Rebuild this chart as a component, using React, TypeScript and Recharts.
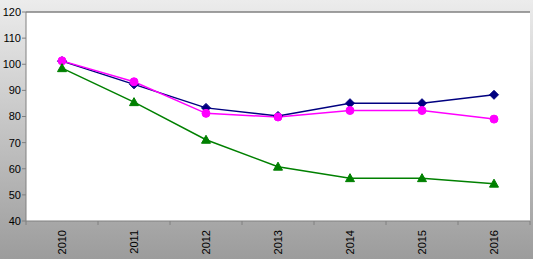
import React from "react";
import { LineChart, Line, XAxis, YAxis, CartesianGrid, ReferenceLine } from "recharts";

const years = ["2010", "2011", "2012", "2013", "2014", "2015", "2016"];
const seriesBlue = [101.2, 92.3, 83.3, 80.2, 85.1, 85.1, 88.3];
const seriesMagenta = [101.3, 93.3, 81.2, 79.8, 82.3, 82.3, 79.0];
const seriesGreen = [98.5, 85.5, 71.1, 60.8, 56.4, 56.4, 54.3];
const yTicks = [40, 50, 60, 70, 80, 90, 100, 110, 120];

const data = years.map((y, i) => ({
  year: y,
  blue: seriesBlue[i],
  magenta: seriesMagenta[i],
  green: seriesGreen[i],
}));

const HALF_BAND = 36;

const Diamond = (props: any) => {
  const { cx, cy } = props;
  if (cx == null || cy == null) return null;
  const r = 4.5;
  return (
    <polygon
      key={props.index}
      points={`${cx},${cy - r} ${cx + r},${cy} ${cx},${cy + r} ${cx - r},${cy}`}
      fill="#000080"
      stroke="#000080"
    />
  );
};

const Circle = (props: any) => {
  const { cx, cy } = props;
  if (cx == null || cy == null) return null;
  return <circle key={props.index} cx={cx} cy={cy} r={4} fill="#FF00FF" stroke="#FF00FF" />;
};

const Triangle = (props: any) => {
  const { cx, cy } = props;
  if (cx == null || cy == null) return null;
  const r = 4.5;
  return (
    <polygon
      key={props.index}
      points={`${cx},${cy - r} ${cx + r},${cy + r - 1} ${cx - r},${cy + r - 1}`}
      fill="#008000"
      stroke="#008000"
    />
  );
};

const XTick = (props: any) => {
  const { x, y, payload, index } = props;
  const axisY = y - 8;
  return (
    <g>
      <line x1={x - HALF_BAND} y1={axisY} x2={x - HALF_BAND} y2={axisY + 4} stroke="#808080" />
      {index === years.length - 1 && (
        <line x1={x + HALF_BAND} y1={axisY} x2={x + HALF_BAND} y2={axisY + 4} stroke="#808080" />
      )}
      <text
        x={0}
        y={0}
        transform={`translate(${x + 4},${axisY + 9}) rotate(-90)`}
        textAnchor="end"
        fontSize={11}
        fontFamily="Liberation Sans, Arial, sans-serif"
        fill="#000"
      >
        {payload.value}
      </text>
    </g>
  );
};

export default function App() {
  return (
    <div
      style={{
        position: "absolute",
        left: 0,
        top: 0,
        width: 533,
        height: 259,
        background: "linear-gradient(#ececec, #c4c4c4 50%, #9c9c9c)",
      }}
    >
      <LineChart
        width={533}
        height={259}
        data={data}
        margin={{ top: 12, right: 3, left: 0, bottom: 0 }}
      >
        <CartesianGrid fill="#ffffff" horizontal={false} vertical={false} />
        <XAxis
          dataKey="year"
          padding={{ left: HALF_BAND, right: HALF_BAND }}
          axisLine={{ stroke: "#808080" }}
          tickLine={false}
          tick={<XTick />}
          interval={0}
          height={38}
        />
        <YAxis
          domain={[40, 120]}
          ticks={yTicks}
          interval={0}
          width={26}
          axisLine={{ stroke: "#808080" }}
          tickLine={{ stroke: "#808080" }}
          tickSize={4}
          tickMargin={1}
          tick={{ fontSize: 11, fill: "#000", fontFamily: "Liberation Sans, Arial, sans-serif" }}
        />
        <YAxis
          yAxisId="right"
          orientation="right"
          domain={[40, 120]}
          axisLine={{ stroke: "#808080", strokeWidth: 2 }}
          tick={false}
          tickLine={false}
          width={0}
        />
        <ReferenceLine y={120} stroke="#808080" strokeWidth={1.5} />
        <Line
          dataKey="blue"
          stroke="#000080"
          strokeWidth={1.5}
          dot={<Diamond />}
          isAnimationActive={false}
        />
        <Line
          dataKey="magenta"
          stroke="#FF00FF"
          strokeWidth={1.5}
          dot={<Circle />}
          isAnimationActive={false}
        />
        <Line
          dataKey="green"
          stroke="#008000"
          strokeWidth={1.5}
          dot={<Triangle />}
          isAnimationActive={false}
        />
      </LineChart>
    </div>
  );
}
